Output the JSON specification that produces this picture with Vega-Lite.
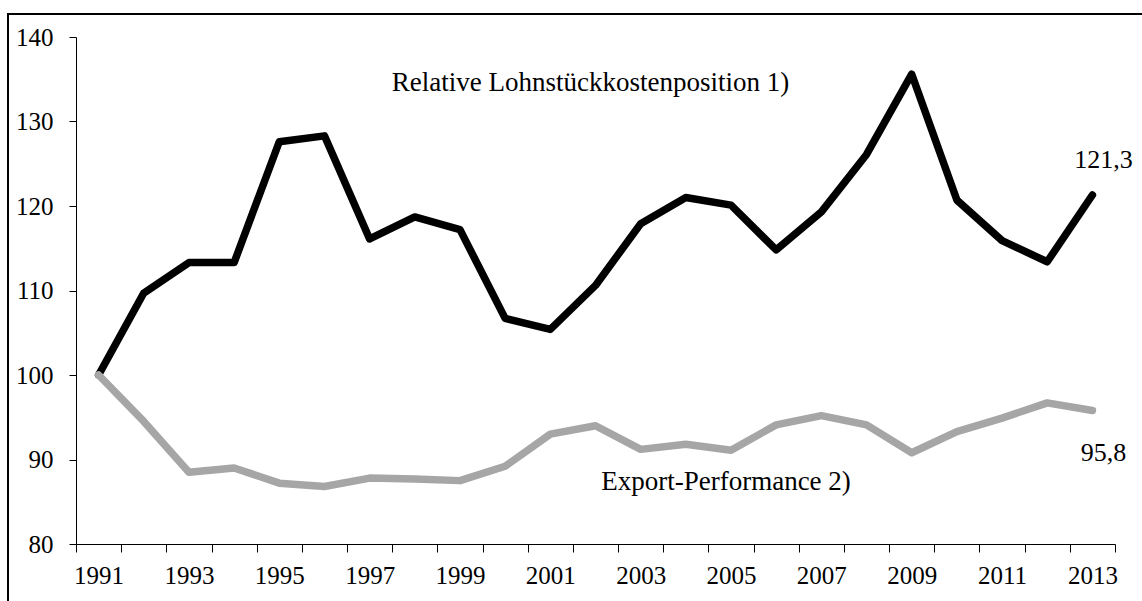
{
  "$schema": "https://vega.github.io/schema/vega-lite/v6.json",
  "width": 1136,
  "height": 589,
  "autosize": {"type": "none"},
  "padding": {"left": 8, "top": 14, "right": -2, "bottom": -2},
  "background": "white",
  "config": {
    "view": {"stroke": "black", "strokeWidth": 2},
    "font": "Liberation Serif",
    "axis": {
      "labelFont": "Liberation Serif",
      "labelFontSize": 25,
      "labelColor": "black",
      "domainColor": "black",
      "domainWidth": 1,
      "tickColor": "black",
      "tickWidth": 1,
      "grid": false,
      "title": null
    }
  },
  "datasets": {
    "series": [
      {"year": 1991, "series": "Lohnstück", "value": 100.0},
      {"year": 1992, "series": "Lohnstück", "value": 109.7},
      {"year": 1993, "series": "Lohnstück", "value": 113.3},
      {"year": 1994, "series": "Lohnstück", "value": 113.3},
      {"year": 1995, "series": "Lohnstück", "value": 127.6},
      {"year": 1996, "series": "Lohnstück", "value": 128.3},
      {"year": 1997, "series": "Lohnstück", "value": 116.1},
      {"year": 1998, "series": "Lohnstück", "value": 118.7},
      {"year": 1999, "series": "Lohnstück", "value": 117.2},
      {"year": 2000, "series": "Lohnstück", "value": 106.7},
      {"year": 2001, "series": "Lohnstück", "value": 105.4},
      {"year": 2002, "series": "Lohnstück", "value": 110.6},
      {"year": 2003, "series": "Lohnstück", "value": 117.9},
      {"year": 2004, "series": "Lohnstück", "value": 121.0},
      {"year": 2005, "series": "Lohnstück", "value": 120.1},
      {"year": 2006, "series": "Lohnstück", "value": 114.8},
      {"year": 2007, "series": "Lohnstück", "value": 119.3},
      {"year": 2008, "series": "Lohnstück", "value": 126.1},
      {"year": 2009, "series": "Lohnstück", "value": 135.6},
      {"year": 2010, "series": "Lohnstück", "value": 120.7},
      {"year": 2011, "series": "Lohnstück", "value": 115.9},
      {"year": 2012, "series": "Lohnstück", "value": 113.4},
      {"year": 2013, "series": "Lohnstück", "value": 121.3},
      {"year": 1991, "series": "Export", "value": 100.0},
      {"year": 1992, "series": "Export", "value": 94.5},
      {"year": 1993, "series": "Export", "value": 88.5},
      {"year": 1994, "series": "Export", "value": 89.0},
      {"year": 1995, "series": "Export", "value": 87.2},
      {"year": 1996, "series": "Export", "value": 86.8},
      {"year": 1997, "series": "Export", "value": 87.8},
      {"year": 1998, "series": "Export", "value": 87.7},
      {"year": 1999, "series": "Export", "value": 87.5},
      {"year": 2000, "series": "Export", "value": 89.2},
      {"year": 2001, "series": "Export", "value": 93.0},
      {"year": 2002, "series": "Export", "value": 94.0},
      {"year": 2003, "series": "Export", "value": 91.2},
      {"year": 2004, "series": "Export", "value": 91.8},
      {"year": 2005, "series": "Export", "value": 91.1},
      {"year": 2006, "series": "Export", "value": 94.1},
      {"year": 2007, "series": "Export", "value": 95.2},
      {"year": 2008, "series": "Export", "value": 94.1},
      {"year": 2009, "series": "Export", "value": 90.8},
      {"year": 2010, "series": "Export", "value": 93.3},
      {"year": 2011, "series": "Export", "value": 94.9},
      {"year": 2012, "series": "Export", "value": 96.7},
      {"year": 2013, "series": "Export", "value": 95.8}
    ],
    "labels": [
      {"year": 2002, "value": 134.6, "text": "Relative Lohnstückkostenposition 1)", "kind": "name"},
      {"year": 2005, "value": 87.3, "text": "Export-Performance 2)", "kind": "name"},
      {"year": 2013, "value": 125.5, "text": "121,3", "kind": "end"},
      {"year": 2013, "value": 90.75, "text": "95,8", "kind": "end"}
    ]
  },
  "layer": [
    {
      "data": {"name": "series"},
      "mark": {"type": "line", "strokeWidth": 7.5, "strokeCap": "round", "strokeJoin": "round"},
      "encoding": {
        "x": {
          "field": "year", "type": "ordinal", "bandPosition": 0.5,
          "scale": {
            "type": "band",
            "domain": [1991,1992,1993,1994,1995,1996,1997,1998,1999,2000,2001,2002,2003,2004,2005,2006,2007,2008,2009,2010,2011,2012,2013],
            "range": [68, 1107], "paddingInner": 0, "paddingOuter": 0
          },
          "axis": {
            "orient": "bottom", "offset": -59, "tickBand": "extent", "tickSize": 8,
            "labelAngle": 0, "labelPadding": 11, "labelOverlap": false,
            "labelExpr": "(datum.value - 1991) % 2 == 0 ? datum.label : ''"
          }
        },
        "y": {
          "field": "value", "type": "quantitative",
          "scale": {"domain": [80, 140], "range": [530, 23], "nice": false, "zero": false},
          "axis": {"orient": "left", "offset": -68, "values": [80, 90, 100, 110, 120, 130, 140], "tickSize": 7, "labelPadding": 16}
        },
        "color": {
          "field": "series", "type": "nominal",
          "scale": {"domain": ["Lohnstück", "Export"], "range": ["#000000", "#a6a6a6"]},
          "legend": null
        },
        "order": {"field": "year", "type": "quantitative"}
      }
    },
    {
      "data": {"name": "labels"},
      "transform": [{"filter": "datum.kind == 'name'"}],
      "mark": {"type": "text", "fontSize": 27, "font": "Liberation Serif", "color": "black", "align": "center", "baseline": "middle", "dx": -5},
      "encoding": {
        "x": {"field": "year", "type": "ordinal", "bandPosition": 0.5},
        "y": {"field": "value", "type": "quantitative"},
        "text": {"field": "text"}
      }
    },
    {
      "data": {"name": "labels"},
      "transform": [{"filter": "datum.kind == 'end'"}],
      "mark": {"type": "text", "fontSize": 26, "font": "Liberation Serif", "color": "black", "align": "center", "baseline": "middle", "dx": 11},
      "encoding": {
        "x": {"field": "year", "type": "ordinal", "bandPosition": 0.5},
        "y": {"field": "value", "type": "quantitative"},
        "text": {"field": "text"}
      }
    }
  ]
}
